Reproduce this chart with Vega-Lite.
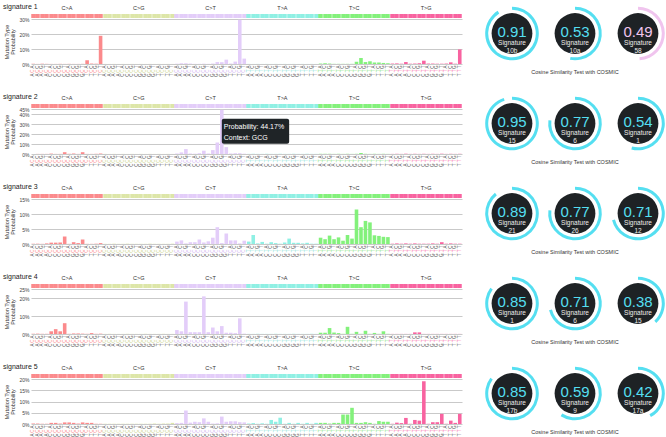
{
"$schema": "https://vega.github.io/schema/vega-lite/v6.json",
"background": "#ffffff",
"padding": {"left": 3, "top": 2, "right": 0, "bottom": 0},
"config": {
 "font": "Liberation Sans",
 "view": {"stroke": null},
 "axis": {"domain": false, "ticks": false},
 "axisX": {"labelAngle": -90, "labelFontSize": 4.5, "labelColor": "#555555", "labelOverlap": false, "grid": false},
 "axisY": {"grid": true, "gridColor": "#c9c9c9", "gridWidth": 1, "labelFontSize": 5, "labelColor": "#444444", "labelPadding": 2, "labelOverlap": false, "titleFontSize": 5.5, "titleFontWeight": "normal", "titleColor": "#333333", "titlePadding": 3, "titleLineHeight": 6}
},
"datasets": {
"bars": [
{"k":"A[C>A]A","t":"C>A","s1":0.1,"s2":0.1,"s3":0.05,"s4":0.1,"s5":0.2},
{"k":"A[C>A]C","t":"C>A","s1":0.05,"s2":0.1,"s3":0.1,"s4":0.2,"s5":0.2},
{"k":"A[C>A]G","t":"C>A","s1":0.2,"s2":0.1,"s3":0.05,"s4":0.1,"s5":0.1},
{"k":"A[C>A]T","t":"C>A","s1":0.1,"s2":0.1,"s3":0.2,"s4":0.1,"s5":0.1},
{"k":"C[C>A]A","t":"C>A","s1":0.05,"s2":0.4,"s3":0.45,"s4":1.5,"s5":0.5},
{"k":"C[C>A]C","t":"C>A","s1":0.05,"s2":0.1,"s3":0.45,"s4":2.7,"s5":0.5},
{"k":"C[C>A]G","t":"C>A","s1":0.1,"s2":0.1,"s3":0.5,"s4":1.5,"s5":0.2},
{"k":"C[C>A]T","t":"C>A","s1":0.05,"s2":1.8,"s3":2.5,"s4":6.0,"s5":0.7},
{"k":"G[C>A]A","t":"C>A","s1":0.1,"s2":0.2,"s3":0.05,"s4":0.1,"s5":0.7},
{"k":"G[C>A]C","t":"C>A","s1":0.05,"s2":0.5,"s3":0.6,"s4":0.3,"s5":0.5},
{"k":"G[C>A]G","t":"C>A","s1":0.05,"s2":0.1,"s3":0.3,"s4":0.3,"s5":0.2},
{"k":"G[C>A]T","t":"C>A","s1":0.1,"s2":1.8,"s3":1.5,"s4":0.2,"s5":0.7},
{"k":"T[C>A]A","t":"C>A","s1":2.5,"s2":0.1,"s3":0.05,"s4":0.1,"s5":0.5},
{"k":"T[C>A]C","t":"C>A","s1":0.3,"s2":0.1,"s3":0.05,"s4":0.5,"s5":0.5},
{"k":"T[C>A]G","t":"C>A","s1":0.2,"s2":0.2,"s3":0.1,"s4":0.1,"s5":0.1},
{"k":"T[C>A]T","t":"C>A","s1":18.8,"s2":0.5,"s3":0.3,"s4":0.2,"s5":0.1},
{"k":"A[C>G]A","t":"C>G","s1":0.05,"s2":0.1,"s3":0.05,"s4":0.05,"s5":0.1},
{"k":"A[C>G]C","t":"C>G","s1":0.03,"s2":0.05,"s3":0.05,"s4":0.1,"s5":0.1},
{"k":"A[C>G]G","t":"C>G","s1":0.05,"s2":0.1,"s3":0.1,"s4":0.05,"s5":0.1},
{"k":"A[C>G]T","t":"C>G","s1":0.03,"s2":0.05,"s3":0.05,"s4":0.05,"s5":0.1},
{"k":"C[C>G]A","t":"C>G","s1":0.05,"s2":0.1,"s3":0.05,"s4":0.05,"s5":0.1},
{"k":"C[C>G]C","t":"C>G","s1":0.03,"s2":0.05,"s3":0.1,"s4":0.1,"s5":0.1},
{"k":"C[C>G]G","t":"C>G","s1":0.05,"s2":0.1,"s3":0.05,"s4":0.05,"s5":0.1},
{"k":"C[C>G]T","t":"C>G","s1":0.03,"s2":0.05,"s3":0.05,"s4":0.05,"s5":0.1},
{"k":"G[C>G]A","t":"C>G","s1":0.05,"s2":0.1,"s3":0.05,"s4":0.05,"s5":0.1},
{"k":"G[C>G]C","t":"C>G","s1":0.03,"s2":0.05,"s3":0.05,"s4":0.1,"s5":0.1},
{"k":"G[C>G]G","t":"C>G","s1":0.05,"s2":0.1,"s3":0.1,"s4":0.05,"s5":0.1},
{"k":"G[C>G]T","t":"C>G","s1":0.03,"s2":0.05,"s3":0.05,"s4":0.05,"s5":0.2},
{"k":"T[C>G]A","t":"C>G","s1":0.05,"s2":0.1,"s3":0.05,"s4":0.05,"s5":0.1},
{"k":"T[C>G]C","t":"C>G","s1":0.03,"s2":0.05,"s3":0.05,"s4":0.1,"s5":0.2},
{"k":"T[C>G]G","t":"C>G","s1":0.05,"s2":0.1,"s3":0.05,"s4":0.05,"s5":0.2},
{"k":"T[C>G]T","t":"C>G","s1":0.03,"s2":0.05,"s3":0.1,"s4":0.05,"s5":0.5},
{"k":"A[C>T]A","t":"C>T","s1":0.2,"s2":0.5,"s3":0.8,"s4":2.2,"s5":0.4},
{"k":"A[C>T]C","t":"C>T","s1":0.5,"s2":1.6,"s3":1.2,"s4":1.5,"s5":0.5},
{"k":"A[C>T]G","t":"C>T","s1":0.5,"s2":4.9,"s3":0.2,"s4":18.0,"s5":6.0},
{"k":"A[C>T]T","t":"C>T","s1":0.3,"s2":0.5,"s3":0.6,"s4":1.0,"s5":0.6},
{"k":"C[C>T]A","t":"C>T","s1":0.1,"s2":0.3,"s3":0.6,"s4":1.0,"s5":1.0},
{"k":"C[C>T]C","t":"C>T","s1":0.1,"s2":0.8,"s3":1.5,"s4":1.0,"s5":0.8},
{"k":"C[C>T]G","t":"C>T","s1":0.2,"s2":3.3,"s3":0.5,"s4":20.9,"s5":2.5},
{"k":"C[C>T]T","t":"C>T","s1":0.1,"s2":0.5,"s3":0.9,"s4":1.0,"s5":1.0},
{"k":"G[C>T]A","t":"C>T","s1":0.3,"s2":3.9,"s3":2.1,"s4":3.6,"s5":0.2},
{"k":"G[C>T]C","t":"C>T","s1":1.3,"s2":11.5,"s3":5.6,"s4":1.5,"s5":0.3},
{"k":"G[C>T]G","t":"C>T","s1":1.2,"s2":44.17,"s3":0.3,"s4":4.4,"s5":3.3},
{"k":"G[C>T]T","t":"C>T","s1":2.9,"s2":6.9,"s3":3.5,"s4":0.7,"s5":1.0},
{"k":"T[C>T]A","t":"C>T","s1":0.3,"s2":0.5,"s3":1.2,"s4":0.7,"s5":1.2},
{"k":"T[C>T]C","t":"C>T","s1":1.6,"s2":0.8,"s3":1.2,"s4":0.5,"s5":1.2},
{"k":"T[C>T]G","t":"C>T","s1":29.5,"s2":0.8,"s3":0.2,"s4":8.7,"s5":0.8},
{"k":"T[C>T]T","t":"C>T","s1":3.6,"s2":0.3,"s3":1.1,"s4":0.2,"s5":0.7},
{"k":"A[T>A]A","t":"T>A","s1":0.05,"s2":0.1,"s3":0.8,"s4":0.05,"s5":0.2},
{"k":"A[T>A]C","t":"T>A","s1":0.03,"s2":0.2,"s3":3.0,"s4":0.05,"s5":0.4},
{"k":"A[T>A]G","t":"T>A","s1":0.05,"s2":0.1,"s3":0.2,"s4":0.1,"s5":0.1},
{"k":"A[T>A]T","t":"T>A","s1":0.03,"s2":0.1,"s3":0.7,"s4":0.05,"s5":0.3},
{"k":"C[T>A]A","t":"T>A","s1":0.05,"s2":0.2,"s3":0.1,"s4":0.05,"s5":0.1},
{"k":"C[T>A]C","t":"T>A","s1":0.03,"s2":0.1,"s3":0.6,"s4":0.05,"s5":1.8},
{"k":"C[T>A]G","t":"T>A","s1":0.05,"s2":0.1,"s3":0.3,"s4":0.1,"s5":1.0},
{"k":"C[T>A]T","t":"T>A","s1":0.03,"s2":0.2,"s3":0.1,"s4":0.05,"s5":2.8},
{"k":"G[T>A]A","t":"T>A","s1":0.05,"s2":0.1,"s3":0.5,"s4":0.05,"s5":0.1},
{"k":"G[T>A]C","t":"T>A","s1":0.03,"s2":0.1,"s3":1.8,"s4":0.05,"s5":0.5},
{"k":"G[T>A]G","t":"T>A","s1":0.05,"s2":0.2,"s3":0.4,"s4":0.1,"s5":0.1},
{"k":"G[T>A]T","t":"T>A","s1":0.03,"s2":0.1,"s3":0.4,"s4":0.05,"s5":0.5},
{"k":"T[T>A]A","t":"T>A","s1":0.05,"s2":0.1,"s3":0.2,"s4":0.05,"s5":0.1},
{"k":"T[T>A]C","t":"T>A","s1":0.03,"s2":0.2,"s3":0.4,"s4":0.05,"s5":0.5},
{"k":"T[T>A]G","t":"T>A","s1":0.05,"s2":0.1,"s3":0.1,"s4":0.1,"s5":0.1},
{"k":"T[T>A]T","t":"T>A","s1":0.03,"s2":0.1,"s3":0.1,"s4":0.05,"s5":0.5},
{"k":"A[T>C]A","t":"T>C","s1":0.3,"s2":0.2,"s3":2.1,"s4":0.7,"s5":0.5},
{"k":"A[T>C]C","t":"T>C","s1":0.5,"s2":0.2,"s3":1.6,"s4":0.7,"s5":0.5},
{"k":"A[T>C]G","t":"T>C","s1":0.3,"s2":0.2,"s3":2.8,"s4":3.3,"s5":0.2},
{"k":"A[T>C]T","t":"T>C","s1":0.1,"s2":0.1,"s3":1.6,"s4":0.8,"s5":0.5},
{"k":"C[T>C]A","t":"T>C","s1":0.1,"s2":0.2,"s3":2.2,"s4":0.5,"s5":0.5},
{"k":"C[T>C]C","t":"T>C","s1":0.1,"s2":0.1,"s3":1.1,"s4":0.1,"s5":4.2},
{"k":"C[T>C]G","t":"T>C","s1":0.1,"s2":0.2,"s3":3.0,"s4":4.0,"s5":4.2},
{"k":"C[T>C]T","t":"T>C","s1":0.1,"s2":0.1,"s3":1.8,"s4":0.1,"s5":7.2},
{"k":"G[T>C]A","t":"T>C","s1":1.5,"s2":0.2,"s3":11.5,"s4":1.2,"s5":0.5},
{"k":"G[T>C]C","t":"T>C","s1":4.0,"s2":1.0,"s3":5.6,"s4":0.1,"s5":0.5},
{"k":"G[T>C]G","t":"T>C","s1":1.3,"s2":0.2,"s3":7.7,"s4":1.8,"s5":0.8},
{"k":"G[T>C]T","t":"T>C","s1":1.8,"s2":0.1,"s3":7.2,"s4":0.1,"s5":0.5},
{"k":"T[T>C]A","t":"T>C","s1":1.0,"s2":0.2,"s3":2.9,"s4":0.6,"s5":0.1},
{"k":"T[T>C]C","t":"T>C","s1":1.0,"s2":0.1,"s3":2.7,"s4":0.1,"s5":1.3},
{"k":"T[T>C]G","t":"T>C","s1":0.7,"s2":0.2,"s3":2.4,"s4":1.5,"s5":1.0},
{"k":"T[T>C]T","t":"T>C","s1":0.5,"s2":0.1,"s3":2.3,"s4":0.1,"s5":1.0},
{"k":"A[T>G]A","t":"T>G","s1":0.3,"s2":0.1,"s3":0.1,"s4":0.05,"s5":0.1},
{"k":"A[T>G]C","t":"T>G","s1":0.4,"s2":0.2,"s3":0.2,"s4":0.05,"s5":0.6},
{"k":"A[T>G]G","t":"T>G","s1":0.2,"s2":0.1,"s3":0.1,"s4":0.05,"s5":0.4},
{"k":"A[T>G]T","t":"T>G","s1":1.3,"s2":0.3,"s3":0.2,"s4":0.05,"s5":2.7},
{"k":"C[T>G]A","t":"T>G","s1":0.2,"s2":0.1,"s3":0.1,"s4":0.05,"s5":0.1},
{"k":"C[T>G]C","t":"T>G","s1":0.3,"s2":0.2,"s3":0.2,"s4":0.9,"s5":1.8},
{"k":"C[T>G]G","t":"T>G","s1":0.5,"s2":0.1,"s3":0.1,"s4":0.9,"s5":1.5},
{"k":"C[T>G]T","t":"T>G","s1":2.2,"s2":0.2,"s3":0.1,"s4":0.05,"s5":19.0},
{"k":"G[T>G]A","t":"T>G","s1":0.3,"s2":0.1,"s3":0.1,"s4":0.05,"s5":0.1},
{"k":"G[T>G]C","t":"T>G","s1":0.3,"s2":0.2,"s3":0.2,"s4":0.05,"s5":0.8},
{"k":"G[T>G]G","t":"T>G","s1":0.2,"s2":0.1,"s3":0.1,"s4":0.05,"s5":0.8},
{"k":"G[T>G]T","t":"T>G","s1":0.2,"s2":0.3,"s3":0.6,"s4":0.05,"s5":4.5},
{"k":"T[T>G]A","t":"T>G","s1":0.3,"s2":0.1,"s3":0.1,"s4":0.05,"s5":0.1},
{"k":"T[T>G]C","t":"T>G","s1":1.1,"s2":0.2,"s3":0.2,"s4":0.05,"s5":1.5},
{"k":"T[T>G]G","t":"T>G","s1":0.2,"s2":0.1,"s3":0.1,"s4":0.05,"s5":0.5},
{"k":"T[T>G]T","t":"T>G","s1":9.7,"s2":0.2,"s3":0.1,"s4":0.05,"s5":4.5}
],
"sims": [
{"row":1,"rank":1,"value":0.91,"sig":"10b"},{"row":1,"rank":2,"value":0.53,"sig":"10a"},{"row":1,"rank":3,"value":0.49,"sig":"58"},
{"row":2,"rank":1,"value":0.95,"sig":"15"},{"row":2,"rank":2,"value":0.77,"sig":"6"},{"row":2,"rank":3,"value":0.54,"sig":"1"},
{"row":3,"rank":1,"value":0.89,"sig":"21"},{"row":3,"rank":2,"value":0.77,"sig":"26"},{"row":3,"rank":3,"value":0.71,"sig":"12"},
{"row":4,"rank":1,"value":0.85,"sig":"1"},{"row":4,"rank":2,"value":0.71,"sig":"6"},{"row":4,"rank":3,"value":0.38,"sig":"15"},
{"row":5,"rank":1,"value":0.85,"sig":"17b"},{"row":5,"rank":2,"value":0.59,"sig":"9"},{"row":5,"rank":3,"value":0.42,"sig":"17a"}
]
},
"columns": 2,
"spacing": {"row": 45, "column": 24.8},
"bounds": "flush",
"concat": [
{
 "width": 431, "height": 45,
 "title": {"text": "signature 1", "anchor": "start", "frame": "group", "dx": -28, "offset": -4, "fontSize": 7, "fontWeight": "normal", "color": "#222222"},
 "data": {"name": "bars"},
 "layer": [
  {"mark": {"type": "bar"},
   "encoding": {
    "x": {"field": "k", "type": "nominal", "sort": null, "title": null, "scale": {"paddingInner": 0.2, "paddingOuter": 0.1}, "axis": {"orient": "bottom", "labelExpr": "substring(datum.label,6,7)", "labelPadding": 1}},
    "y": {"field": "s1", "type": "quantitative", "scale": {"domain": [0, 30], "nice": false}, "axis": {"values": [0, 10, 20, 30], "labelExpr": "datum.value + '%'", "title": ["Mutation Type", "Probability"]}},
    "color": {"field": "t", "type": "nominal", "scale": {"domain": ["C>A","C>G","C>T","T>A","T>C","T>G"], "range": ["#fb8a8c","#dde6a8","#e3cdf9","#8ff0e4","#83f17b","#f863a0"]}, "legend": null}
   }},
  {"mark": {"type": "bar", "opacity": 0},
   "encoding": {
    "x": {"field": "k", "type": "nominal", "sort": null, "title": null, "axis": {"orient": "bottom", "labelExpr": "substring(datum.label,2,3)", "labelPadding": 5, "labelColor": {"condition": [{"test": "substring(datum.value,2,5)=='C>A'", "value": "#fb8a8c"}, {"test": "substring(datum.value,2,5)=='C>G'", "value": "#cdd690"}, {"test": "substring(datum.value,2,5)=='C>T'", "value": "#d3b8f2"}, {"test": "substring(datum.value,2,5)=='T>A'", "value": "#7ce0d4"}, {"test": "substring(datum.value,2,5)=='T>C'", "value": "#74e06c"}], "value": "#f863a0"}}},
    "y": {"field": "s1", "type": "quantitative", "axis": {"values": [0, 10, 20, 30], "labelExpr": "datum.value + '%'", "title": ["Mutation Type", "Probability"]}}
   }},
  {"mark": {"type": "bar", "opacity": 0},
   "encoding": {
    "x": {"field": "k", "type": "nominal", "sort": null, "title": null, "axis": {"orient": "bottom", "labelExpr": "substring(datum.label,0,1)", "labelPadding": 9}},
    "y": {"field": "s1", "type": "quantitative", "axis": {"values": [0, 10, 20, 30], "labelExpr": "datum.value + '%'", "title": ["Mutation Type", "Probability"]}}
   }},
  {"mark": {"type": "bar", "opacity": 0},
   "encoding": {
    "x": {"field": "k", "type": "nominal", "sort": null, "title": null, "axis": {"orient": "top", "offset": 1.5, "labelAngle": 0, "labelFontSize": 5.5, "labelColor": "#333333", "labelPadding": 3, "labelOffset": -2.245, "labelExpr": "substring(datum.label,0,1)=='G' && substring(datum.label,6,7)=='A' ? substring(datum.label,2,5) : ''", "ticks": true, "tickSize": 4, "tickWidth": 4.5, "tickColor": {"condition": [{"test": "substring(datum.value,2,5)=='C>A'", "value": "#fb8a8c"}, {"test": "substring(datum.value,2,5)=='C>G'", "value": "#dde6a8"}, {"test": "substring(datum.value,2,5)=='C>T'", "value": "#e3cdf9"}, {"test": "substring(datum.value,2,5)=='T>A'", "value": "#8ff0e4"}, {"test": "substring(datum.value,2,5)=='T>C'", "value": "#83f17b"}], "value": "#f863a0"}}},
    "y": {"field": "s1", "type": "quantitative", "axis": {"values": [0, 10, 20, 30], "labelExpr": "datum.value + '%'", "title": ["Mutation Type", "Probability"]}}
   }}
 ],
 "resolve": {"axis": {"x": "independent"}}
},
{
 "width": 176.4, "height": 29,
 "data": {"name": "sims"},
 "transform": [{"filter": "datum.row == 1"}],
 "title": {"text": "Cosine Similarity Test with COSMIC", "orient": "bottom", "anchor": "middle", "frame": "group", "fontSize": 5.5, "fontWeight": "normal", "offset": 9.5, "color": "#333333"},
 "encoding": {"x": {"field": "rank", "type": "ordinal", "scale": {"type": "point", "padding": 0.4}, "axis": null}},
 "layer": [
  {"mark": {"type": "circle", "size": 1662, "color": "#1e2225", "opacity": 1}},
  {"mark": {"type": "arc", "radius": 26.8, "radius2": 23.8}, "encoding": {"theta": {"field": "value", "type": "quantitative", "stack": null, "scale": {"domain": [0, 1], "range": [0, 6.2832]}}, "color": {"condition": {"test": "datum.sig == '58'", "value": "#f0c4ee"}, "value": "#55dff1"}}},
  {"mark": {"type": "text", "fontSize": 15, "baseline": "middle", "dy": -2}, "encoding": {"text": {"field": "value", "type": "quantitative", "format": ".2f"}, "color": {"condition": {"test": "datum.sig == '58'", "value": "#f0c4ee"}, "value": "#55dff1"}}},
  {"mark": {"type": "text", "fontSize": 6.5, "baseline": "middle", "dy": 9, "color": "#eeeeee", "text": "Signature"}},
  {"mark": {"type": "text", "fontSize": 6.5, "baseline": "middle", "dy": 17.5, "color": "#eeeeee"}, "encoding": {"text": {"field": "sig", "type": "nominal"}}}
 ]
},
{
 "width": 431, "height": 45,
 "title": {"text": "signature 2", "anchor": "start", "frame": "group", "dx": -28, "offset": -4, "fontSize": 7, "fontWeight": "normal", "color": "#222222"},
 "data": {"name": "bars"},
 "layer": [
  {"mark": {"type": "bar"},
   "encoding": {
    "x": {"field": "k", "type": "nominal", "sort": null, "title": null, "scale": {"paddingInner": 0.2, "paddingOuter": 0.1, "domain": ["A[C>A]A","A[C>A]C","A[C>A]G","A[C>A]T","C[C>A]A","C[C>A]C","C[C>A]G","C[C>A]T","G[C>A]A","G[C>A]C","G[C>A]G","G[C>A]T","T[C>A]A","T[C>A]C","T[C>A]G","T[C>A]T","A[C>G]A","A[C>G]C","A[C>G]G","A[C>G]T","C[C>G]A","C[C>G]C","C[C>G]G","C[C>G]T","G[C>G]A","G[C>G]C","G[C>G]G","G[C>G]T","T[C>G]A","T[C>G]C","T[C>G]G","T[C>G]T","A[C>T]A","A[C>T]C","A[C>T]G","A[C>T]T","C[C>T]A","C[C>T]C","C[C>T]G","C[C>T]T","G[C>T]A","G[C>T]C","G[C>T]G","G[C>T]T","T[C>T]A","T[C>T]C","T[C>T]G","T[C>T]T","A[T>A]A","A[T>A]C","A[T>A]G","A[T>A]T","C[T>A]A","C[T>A]C","C[T>A]G","C[T>A]T","G[T>A]A","G[T>A]C","G[T>A]G","G[T>A]T","T[T>A]A","T[T>A]C","T[T>A]G","T[T>A]T","A[T>C]A","A[T>C]C","A[T>C]G","A[T>C]T","C[T>C]A","C[T>C]C","C[T>C]G","C[T>C]T","G[T>C]A","G[T>C]C","G[T>C]G","G[T>C]T","T[T>C]A","T[T>C]C","T[T>C]G","T[T>C]T","A[T>G]A","A[T>G]C","A[T>G]G","A[T>G]T","C[T>G]A","C[T>G]C","C[T>G]G","C[T>G]T","G[T>G]A","G[T>G]C","G[T>G]G","G[T>G]T","T[T>G]A","T[T>G]C","T[T>G]G","T[T>G]T"]}, "axis": {"orient": "bottom", "labelExpr": "substring(datum.label,6,7)", "labelPadding": 1}},
    "y": {"field": "s2", "type": "quantitative", "scale": {"domain": [0, 45], "nice": false}, "axis": {"values": [0, 10, 20, 30, 40, 45], "labelExpr": "datum.value + '%'", "title": ["Mutation Type", "Probability"]}},
    "color": {"field": "t", "type": "nominal", "scale": {"domain": ["C>A","C>G","C>T","T>A","T>C","T>G"], "range": ["#fb8a8c","#dde6a8","#e3cdf9","#8ff0e4","#83f17b","#f863a0"]}, "legend": null}
   }},
  {"mark": {"type": "bar", "opacity": 0},
   "encoding": {
    "x": {"field": "k", "type": "nominal", "sort": null, "title": null, "axis": {"orient": "bottom", "labelExpr": "substring(datum.label,2,3)", "labelPadding": 5, "labelColor": {"condition": [{"test": "substring(datum.value,2,5)=='C>A'", "value": "#fb8a8c"}, {"test": "substring(datum.value,2,5)=='C>G'", "value": "#cdd690"}, {"test": "substring(datum.value,2,5)=='C>T'", "value": "#d3b8f2"}, {"test": "substring(datum.value,2,5)=='T>A'", "value": "#7ce0d4"}, {"test": "substring(datum.value,2,5)=='T>C'", "value": "#74e06c"}], "value": "#f863a0"}}},
    "y": {"field": "s2", "type": "quantitative", "axis": {"values": [0, 10, 20, 30, 40, 45], "labelExpr": "datum.value + '%'", "title": ["Mutation Type", "Probability"]}}
   }},
  {"mark": {"type": "bar", "opacity": 0},
   "encoding": {
    "x": {"field": "k", "type": "nominal", "sort": null, "title": null, "axis": {"orient": "bottom", "labelExpr": "substring(datum.label,0,1)", "labelPadding": 9}},
    "y": {"field": "s2", "type": "quantitative", "axis": {"values": [0, 10, 20, 30, 40, 45], "labelExpr": "datum.value + '%'", "title": ["Mutation Type", "Probability"]}}
   }},
  {"mark": {"type": "bar", "opacity": 0},
   "encoding": {
    "x": {"field": "k", "type": "nominal", "sort": null, "title": null, "axis": {"orient": "top", "offset": 1.5, "labelAngle": 0, "labelFontSize": 5.5, "labelColor": "#333333", "labelPadding": 3, "labelOffset": -2.245, "labelExpr": "substring(datum.label,0,1)=='G' && substring(datum.label,6,7)=='A' ? substring(datum.label,2,5) : ''", "ticks": true, "tickSize": 4, "tickWidth": 4.5, "tickColor": {"condition": [{"test": "substring(datum.value,2,5)=='C>A'", "value": "#fb8a8c"}, {"test": "substring(datum.value,2,5)=='C>G'", "value": "#dde6a8"}, {"test": "substring(datum.value,2,5)=='C>T'", "value": "#e3cdf9"}, {"test": "substring(datum.value,2,5)=='T>A'", "value": "#8ff0e4"}, {"test": "substring(datum.value,2,5)=='T>C'", "value": "#83f17b"}], "value": "#f863a0"}}},
    "y": {"field": "s2", "type": "quantitative", "axis": {"values": [0, 10, 20, 30, 40, 45], "labelExpr": "datum.value + '%'", "title": ["Mutation Type", "Probability"]}}
   }},
  {"data": {"values": [{"lines": ["Probability: 44.17%", "Context: GCG"]}]},
   "mark": {"type": "rect", "color": "#1f2427", "cornerRadius": 2},
   "encoding": {
    "x": {"datum": "G[C>T]G", "type": "nominal", "axis": null},
    "x2": {"datum": "G[T>A]C"},
    "y": {"datum": 35.2, "type": "quantitative", "axis": {"values": [0, 10, 20, 30, 40, 45], "labelExpr": "datum.value + '%'", "title": ["Mutation Type", "Probability"]}},
    "y2": {"datum": 10.2}
   }},
  {"data": {"values": [{"lines": ["Probability: 44.17%", "Context: GCG"]}]},
   "mark": {"type": "text", "align": "left", "baseline": "top", "dx": 2, "fontSize": 7, "color": "#ffffff", "lineHeight": 10.7},
   "encoding": {
    "x": {"datum": "G[C>T]G", "type": "nominal", "axis": null},
    "y": {"datum": 31, "type": "quantitative", "axis": {"values": [0, 10, 20, 30, 40, 45], "labelExpr": "datum.value + '%'", "title": ["Mutation Type", "Probability"]}},
    "text": {"field": "lines"}
   }}
 ],
 "resolve": {"axis": {"x": "independent"}}
},
{
 "width": 176.4, "height": 29,
 "data": {"name": "sims"},
 "transform": [{"filter": "datum.row == 2"}],
 "title": {"text": "Cosine Similarity Test with COSMIC", "orient": "bottom", "anchor": "middle", "frame": "group", "fontSize": 5.5, "fontWeight": "normal", "offset": 9.5, "color": "#333333"},
 "encoding": {"x": {"field": "rank", "type": "ordinal", "scale": {"type": "point", "padding": 0.4}, "axis": null}},
 "layer": [
  {"mark": {"type": "circle", "size": 1662, "color": "#1e2225", "opacity": 1}},
  {"mark": {"type": "arc", "radius": 26.8, "radius2": 23.8}, "encoding": {"theta": {"field": "value", "type": "quantitative", "stack": null, "scale": {"domain": [0, 1], "range": [0, 6.2832]}}, "color": {"condition": {"test": "datum.sig == '58'", "value": "#f0c4ee"}, "value": "#55dff1"}}},
  {"mark": {"type": "text", "fontSize": 15, "baseline": "middle", "dy": -2}, "encoding": {"text": {"field": "value", "type": "quantitative", "format": ".2f"}, "color": {"condition": {"test": "datum.sig == '58'", "value": "#f0c4ee"}, "value": "#55dff1"}}},
  {"mark": {"type": "text", "fontSize": 6.5, "baseline": "middle", "dy": 9, "color": "#eeeeee", "text": "Signature"}},
  {"mark": {"type": "text", "fontSize": 6.5, "baseline": "middle", "dy": 17.5, "color": "#eeeeee"}, "encoding": {"text": {"field": "sig", "type": "nominal"}}}
 ]
},
{
 "width": 431, "height": 45,
 "title": {"text": "signature 3", "anchor": "start", "frame": "group", "dx": -28, "offset": -4, "fontSize": 7, "fontWeight": "normal", "color": "#222222"},
 "data": {"name": "bars"},
 "layer": [
  {"mark": {"type": "bar"},
   "encoding": {
    "x": {"field": "k", "type": "nominal", "sort": null, "title": null, "scale": {"paddingInner": 0.2, "paddingOuter": 0.1}, "axis": {"orient": "bottom", "labelExpr": "substring(datum.label,6,7)", "labelPadding": 1}},
    "y": {"field": "s3", "type": "quantitative", "scale": {"domain": [0, 15], "nice": false}, "axis": {"values": [0, 5, 10, 15], "labelExpr": "datum.value + '%'", "title": ["Mutation Type", "Probability"]}},
    "color": {"field": "t", "type": "nominal", "scale": {"domain": ["C>A","C>G","C>T","T>A","T>C","T>G"], "range": ["#fb8a8c","#dde6a8","#e3cdf9","#8ff0e4","#83f17b","#f863a0"]}, "legend": null}
   }},
  {"mark": {"type": "bar", "opacity": 0},
   "encoding": {
    "x": {"field": "k", "type": "nominal", "sort": null, "title": null, "axis": {"orient": "bottom", "labelExpr": "substring(datum.label,2,3)", "labelPadding": 5, "labelColor": {"condition": [{"test": "substring(datum.value,2,5)=='C>A'", "value": "#fb8a8c"}, {"test": "substring(datum.value,2,5)=='C>G'", "value": "#cdd690"}, {"test": "substring(datum.value,2,5)=='C>T'", "value": "#d3b8f2"}, {"test": "substring(datum.value,2,5)=='T>A'", "value": "#7ce0d4"}, {"test": "substring(datum.value,2,5)=='T>C'", "value": "#74e06c"}], "value": "#f863a0"}}},
    "y": {"field": "s3", "type": "quantitative", "axis": {"values": [0, 5, 10, 15], "labelExpr": "datum.value + '%'", "title": ["Mutation Type", "Probability"]}}
   }},
  {"mark": {"type": "bar", "opacity": 0},
   "encoding": {
    "x": {"field": "k", "type": "nominal", "sort": null, "title": null, "axis": {"orient": "bottom", "labelExpr": "substring(datum.label,0,1)", "labelPadding": 9}},
    "y": {"field": "s3", "type": "quantitative", "axis": {"values": [0, 5, 10, 15], "labelExpr": "datum.value + '%'", "title": ["Mutation Type", "Probability"]}}
   }},
  {"mark": {"type": "bar", "opacity": 0},
   "encoding": {
    "x": {"field": "k", "type": "nominal", "sort": null, "title": null, "axis": {"orient": "top", "offset": 1.5, "labelAngle": 0, "labelFontSize": 5.5, "labelColor": "#333333", "labelPadding": 3, "labelOffset": -2.245, "labelExpr": "substring(datum.label,0,1)=='G' && substring(datum.label,6,7)=='A' ? substring(datum.label,2,5) : ''", "ticks": true, "tickSize": 4, "tickWidth": 4.5, "tickColor": {"condition": [{"test": "substring(datum.value,2,5)=='C>A'", "value": "#fb8a8c"}, {"test": "substring(datum.value,2,5)=='C>G'", "value": "#dde6a8"}, {"test": "substring(datum.value,2,5)=='C>T'", "value": "#e3cdf9"}, {"test": "substring(datum.value,2,5)=='T>A'", "value": "#8ff0e4"}, {"test": "substring(datum.value,2,5)=='T>C'", "value": "#83f17b"}], "value": "#f863a0"}}},
    "y": {"field": "s3", "type": "quantitative", "axis": {"values": [0, 5, 10, 15], "labelExpr": "datum.value + '%'", "title": ["Mutation Type", "Probability"]}}
   }}
 ],
 "resolve": {"axis": {"x": "independent"}}
},
{
 "width": 176.4, "height": 29,
 "data": {"name": "sims"},
 "transform": [{"filter": "datum.row == 3"}],
 "title": {"text": "Cosine Similarity Test with COSMIC", "orient": "bottom", "anchor": "middle", "frame": "group", "fontSize": 5.5, "fontWeight": "normal", "offset": 9.5, "color": "#333333"},
 "encoding": {"x": {"field": "rank", "type": "ordinal", "scale": {"type": "point", "padding": 0.4}, "axis": null}},
 "layer": [
  {"mark": {"type": "circle", "size": 1662, "color": "#1e2225", "opacity": 1}},
  {"mark": {"type": "arc", "radius": 26.8, "radius2": 23.8}, "encoding": {"theta": {"field": "value", "type": "quantitative", "stack": null, "scale": {"domain": [0, 1], "range": [0, 6.2832]}}, "color": {"condition": {"test": "datum.sig == '58'", "value": "#f0c4ee"}, "value": "#55dff1"}}},
  {"mark": {"type": "text", "fontSize": 15, "baseline": "middle", "dy": -2}, "encoding": {"text": {"field": "value", "type": "quantitative", "format": ".2f"}, "color": {"condition": {"test": "datum.sig == '58'", "value": "#f0c4ee"}, "value": "#55dff1"}}},
  {"mark": {"type": "text", "fontSize": 6.5, "baseline": "middle", "dy": 9, "color": "#eeeeee", "text": "Signature"}},
  {"mark": {"type": "text", "fontSize": 6.5, "baseline": "middle", "dy": 17.5, "color": "#eeeeee"}, "encoding": {"text": {"field": "sig", "type": "nominal"}}}
 ]
},
{
 "width": 431, "height": 45,
 "title": {"text": "signature 4", "anchor": "start", "frame": "group", "dx": -28, "offset": -4, "fontSize": 7, "fontWeight": "normal", "color": "#222222"},
 "data": {"name": "bars"},
 "layer": [
  {"mark": {"type": "bar"},
   "encoding": {
    "x": {"field": "k", "type": "nominal", "sort": null, "title": null, "scale": {"paddingInner": 0.2, "paddingOuter": 0.1}, "axis": {"orient": "bottom", "labelExpr": "substring(datum.label,6,7)", "labelPadding": 1}},
    "y": {"field": "s4", "type": "quantitative", "scale": {"domain": [0, 25], "nice": false}, "axis": {"values": [0, 10, 20, 25], "labelExpr": "datum.value + '%'", "title": ["Mutation Type", "Probability"]}},
    "color": {"field": "t", "type": "nominal", "scale": {"domain": ["C>A","C>G","C>T","T>A","T>C","T>G"], "range": ["#fb8a8c","#dde6a8","#e3cdf9","#8ff0e4","#83f17b","#f863a0"]}, "legend": null}
   }},
  {"mark": {"type": "bar", "opacity": 0},
   "encoding": {
    "x": {"field": "k", "type": "nominal", "sort": null, "title": null, "axis": {"orient": "bottom", "labelExpr": "substring(datum.label,2,3)", "labelPadding": 5, "labelColor": {"condition": [{"test": "substring(datum.value,2,5)=='C>A'", "value": "#fb8a8c"}, {"test": "substring(datum.value,2,5)=='C>G'", "value": "#cdd690"}, {"test": "substring(datum.value,2,5)=='C>T'", "value": "#d3b8f2"}, {"test": "substring(datum.value,2,5)=='T>A'", "value": "#7ce0d4"}, {"test": "substring(datum.value,2,5)=='T>C'", "value": "#74e06c"}], "value": "#f863a0"}}},
    "y": {"field": "s4", "type": "quantitative", "axis": {"values": [0, 10, 20, 25], "labelExpr": "datum.value + '%'", "title": ["Mutation Type", "Probability"]}}
   }},
  {"mark": {"type": "bar", "opacity": 0},
   "encoding": {
    "x": {"field": "k", "type": "nominal", "sort": null, "title": null, "axis": {"orient": "bottom", "labelExpr": "substring(datum.label,0,1)", "labelPadding": 9}},
    "y": {"field": "s4", "type": "quantitative", "axis": {"values": [0, 10, 20, 25], "labelExpr": "datum.value + '%'", "title": ["Mutation Type", "Probability"]}}
   }},
  {"mark": {"type": "bar", "opacity": 0},
   "encoding": {
    "x": {"field": "k", "type": "nominal", "sort": null, "title": null, "axis": {"orient": "top", "offset": 1.5, "labelAngle": 0, "labelFontSize": 5.5, "labelColor": "#333333", "labelPadding": 3, "labelOffset": -2.245, "labelExpr": "substring(datum.label,0,1)=='G' && substring(datum.label,6,7)=='A' ? substring(datum.label,2,5) : ''", "ticks": true, "tickSize": 4, "tickWidth": 4.5, "tickColor": {"condition": [{"test": "substring(datum.value,2,5)=='C>A'", "value": "#fb8a8c"}, {"test": "substring(datum.value,2,5)=='C>G'", "value": "#dde6a8"}, {"test": "substring(datum.value,2,5)=='C>T'", "value": "#e3cdf9"}, {"test": "substring(datum.value,2,5)=='T>A'", "value": "#8ff0e4"}, {"test": "substring(datum.value,2,5)=='T>C'", "value": "#83f17b"}], "value": "#f863a0"}}},
    "y": {"field": "s4", "type": "quantitative", "axis": {"values": [0, 10, 20, 25], "labelExpr": "datum.value + '%'", "title": ["Mutation Type", "Probability"]}}
   }}
 ],
 "resolve": {"axis": {"x": "independent"}}
},
{
 "width": 176.4, "height": 29,
 "data": {"name": "sims"},
 "transform": [{"filter": "datum.row == 4"}],
 "title": {"text": "Cosine Similarity Test with COSMIC", "orient": "bottom", "anchor": "middle", "frame": "group", "fontSize": 5.5, "fontWeight": "normal", "offset": 9.5, "color": "#333333"},
 "encoding": {"x": {"field": "rank", "type": "ordinal", "scale": {"type": "point", "padding": 0.4}, "axis": null}},
 "layer": [
  {"mark": {"type": "circle", "size": 1662, "color": "#1e2225", "opacity": 1}},
  {"mark": {"type": "arc", "radius": 26.8, "radius2": 23.8}, "encoding": {"theta": {"field": "value", "type": "quantitative", "stack": null, "scale": {"domain": [0, 1], "range": [0, 6.2832]}}, "color": {"condition": {"test": "datum.sig == '58'", "value": "#f0c4ee"}, "value": "#55dff1"}}},
  {"mark": {"type": "text", "fontSize": 15, "baseline": "middle", "dy": -2}, "encoding": {"text": {"field": "value", "type": "quantitative", "format": ".2f"}, "color": {"condition": {"test": "datum.sig == '58'", "value": "#f0c4ee"}, "value": "#55dff1"}}},
  {"mark": {"type": "text", "fontSize": 6.5, "baseline": "middle", "dy": 9, "color": "#eeeeee", "text": "Signature"}},
  {"mark": {"type": "text", "fontSize": 6.5, "baseline": "middle", "dy": 17.5, "color": "#eeeeee"}, "encoding": {"text": {"field": "sig", "type": "nominal"}}}
 ]
},
{
 "width": 431, "height": 45,
 "title": {"text": "signature 5", "anchor": "start", "frame": "group", "dx": -28, "offset": -4, "fontSize": 7, "fontWeight": "normal", "color": "#222222"},
 "data": {"name": "bars"},
 "layer": [
  {"mark": {"type": "bar"},
   "encoding": {
    "x": {"field": "k", "type": "nominal", "sort": null, "title": null, "scale": {"paddingInner": 0.2, "paddingOuter": 0.1}, "axis": {"orient": "bottom", "labelExpr": "substring(datum.label,6,7)", "labelPadding": 1}},
    "y": {"field": "s5", "type": "quantitative", "scale": {"domain": [0, 20], "nice": false}, "axis": {"values": [0, 5, 10, 15, 20], "labelExpr": "datum.value + '%'", "title": ["Mutation Type", "Probability"]}},
    "color": {"field": "t", "type": "nominal", "scale": {"domain": ["C>A","C>G","C>T","T>A","T>C","T>G"], "range": ["#fb8a8c","#dde6a8","#e3cdf9","#8ff0e4","#83f17b","#f863a0"]}, "legend": null}
   }},
  {"mark": {"type": "bar", "opacity": 0},
   "encoding": {
    "x": {"field": "k", "type": "nominal", "sort": null, "title": null, "axis": {"orient": "bottom", "labelExpr": "substring(datum.label,2,3)", "labelPadding": 5, "labelColor": {"condition": [{"test": "substring(datum.value,2,5)=='C>A'", "value": "#fb8a8c"}, {"test": "substring(datum.value,2,5)=='C>G'", "value": "#cdd690"}, {"test": "substring(datum.value,2,5)=='C>T'", "value": "#d3b8f2"}, {"test": "substring(datum.value,2,5)=='T>A'", "value": "#7ce0d4"}, {"test": "substring(datum.value,2,5)=='T>C'", "value": "#74e06c"}], "value": "#f863a0"}}},
    "y": {"field": "s5", "type": "quantitative", "axis": {"values": [0, 5, 10, 15, 20], "labelExpr": "datum.value + '%'", "title": ["Mutation Type", "Probability"]}}
   }},
  {"mark": {"type": "bar", "opacity": 0},
   "encoding": {
    "x": {"field": "k", "type": "nominal", "sort": null, "title": null, "axis": {"orient": "bottom", "labelExpr": "substring(datum.label,0,1)", "labelPadding": 9}},
    "y": {"field": "s5", "type": "quantitative", "axis": {"values": [0, 5, 10, 15, 20], "labelExpr": "datum.value + '%'", "title": ["Mutation Type", "Probability"]}}
   }},
  {"mark": {"type": "bar", "opacity": 0},
   "encoding": {
    "x": {"field": "k", "type": "nominal", "sort": null, "title": null, "axis": {"orient": "top", "offset": 1.5, "labelAngle": 0, "labelFontSize": 5.5, "labelColor": "#333333", "labelPadding": 3, "labelOffset": -2.245, "labelExpr": "substring(datum.label,0,1)=='G' && substring(datum.label,6,7)=='A' ? substring(datum.label,2,5) : ''", "ticks": true, "tickSize": 4, "tickWidth": 4.5, "tickColor": {"condition": [{"test": "substring(datum.value,2,5)=='C>A'", "value": "#fb8a8c"}, {"test": "substring(datum.value,2,5)=='C>G'", "value": "#dde6a8"}, {"test": "substring(datum.value,2,5)=='C>T'", "value": "#e3cdf9"}, {"test": "substring(datum.value,2,5)=='T>A'", "value": "#8ff0e4"}, {"test": "substring(datum.value,2,5)=='T>C'", "value": "#83f17b"}], "value": "#f863a0"}}},
    "y": {"field": "s5", "type": "quantitative", "axis": {"values": [0, 5, 10, 15, 20], "labelExpr": "datum.value + '%'", "title": ["Mutation Type", "Probability"]}}
   }}
 ],
 "resolve": {"axis": {"x": "independent"}}
},
{
 "width": 176.4, "height": 29,
 "data": {"name": "sims"},
 "transform": [{"filter": "datum.row == 5"}],
 "title": {"text": "Cosine Similarity Test with COSMIC", "orient": "bottom", "anchor": "middle", "frame": "group", "fontSize": 5.5, "fontWeight": "normal", "offset": 9.5, "color": "#333333"},
 "encoding": {"x": {"field": "rank", "type": "ordinal", "scale": {"type": "point", "padding": 0.4}, "axis": null}},
 "layer": [
  {"mark": {"type": "circle", "size": 1662, "color": "#1e2225", "opacity": 1}},
  {"mark": {"type": "arc", "radius": 26.8, "radius2": 23.8}, "encoding": {"theta": {"field": "value", "type": "quantitative", "stack": null, "scale": {"domain": [0, 1], "range": [0, 6.2832]}}, "color": {"condition": {"test": "datum.sig == '58'", "value": "#f0c4ee"}, "value": "#55dff1"}}},
  {"mark": {"type": "text", "fontSize": 15, "baseline": "middle", "dy": -2}, "encoding": {"text": {"field": "value", "type": "quantitative", "format": ".2f"}, "color": {"condition": {"test": "datum.sig == '58'", "value": "#f0c4ee"}, "value": "#55dff1"}}},
  {"mark": {"type": "text", "fontSize": 6.5, "baseline": "middle", "dy": 9, "color": "#eeeeee", "text": "Signature"}},
  {"mark": {"type": "text", "fontSize": 6.5, "baseline": "middle", "dy": 17.5, "color": "#eeeeee"}, "encoding": {"text": {"field": "sig", "type": "nominal"}}}
 ]
}
]
}
